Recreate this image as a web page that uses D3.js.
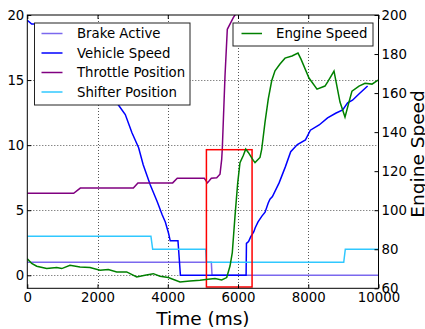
<!DOCTYPE html>
<html>
<head>
<meta charset="utf-8">
<script src="https://cdn.jsdelivr.net/npm/d3@7"></script>
<style>
  body { margin: 0; background: #fff; }
  svg { display: block; font-family: "DejaVu Sans", sans-serif; }
</style>
</head>
<body>
<svg width="425" height="329"></svg>
<script>
// series data: [time (ms), value]
const brakeActive = [[0, 1], [5240, 1], [5260, 0], [10000, 0]]
const shifterPosition = [[0, 3], [3520, 3], [3570, 2], [5080, 2], [5100, 1], [9010, 1], [9055, 2], [10000, 2]]
const throttlePosition = [
  [0, 6.3], [1320, 6.3], [1510, 6.7], [3020, 6.7], [3150, 7.1], [4140, 7.1], [4270, 7.45],
  [5040, 7.45], [5130, 7.1], [5240, 7.45], [5393, 7.5], [5487, 7.77], [5535, 8.9], [5552, 9.7],
  [5629, 15.3], [5695, 18.9], [5866, 19.8], [5962, 20.2], [6100, 20.3], [10000, 20.3]
]
const vehicleSpeed = [
  [0, 19.6], [125, 19.3], [400, 19.3], [1000, 19.0], [1500, 18.2], [2000, 16.3], [2300, 14.6],
  [2590, 13.1], [2790, 12.35], [2980, 10.95], [3170, 9.8], [3300, 8.5], [3500, 6.95], [3700, 5.65],
  [3840, 4.65], [3930, 4.1], [4020, 3.25], [4070, 2.65], [4290, 2.65], [4360, 0], [6230, 0],
  [6240, 2.45], [6300, 2.6], [6360, 2.95], [6450, 3.35], [6490, 3.65], [6570, 4.1], [6680, 4.55],
  [6770, 4.85], [6860, 5.55], [6910, 5.85], [6980, 6.05], [7170, 7.1], [7350, 8.35], [7500, 9.5],
  [7690, 10.05], [7920, 10.4], [8060, 11.15], [8310, 11.55], [8550, 12.1], [8780, 12.45],
  [8980, 12.7], [9120, 13.25], [9260, 13.45], [9450, 13.95], [9690, 14.55]
]
const engineSpeed = [
  [0, 75.2], [125, 72.7], [268, 71.3], [552, 70.1], [837, 70.6], [980, 70.1], [1216, 71.8],
  [1500, 70.9], [1785, 70.6], [2070, 69.2], [2306, 69.6], [2546, 68.4], [2830, 68.4], [3115, 65.8],
  [3351, 66.7], [3588, 67.5], [3778, 66.2], [4015, 65.5], [4348, 63.2], [4632, 63.7], [4917, 64.1],
  [5145, 64.6], [5345, 65], [5535, 64.3], [5678, 65.5], [5772, 71.4], [5837, 78.3], [5914, 97],
  [5991, 114], [6056, 124.4], [6150, 128], [6219, 131.3], [6293, 129.6], [6435, 125.5], [6484, 124.4],
  [6626, 127], [6675, 131.3], [6768, 145], [6862, 157], [6959, 166.3], [7053, 171.4], [7195, 174.9],
  [7338, 177.9], [7537, 179], [7708, 180.5], [7793, 177.4], [8021, 167.7], [8249, 162], [8476, 163.6],
  [8562, 166], [8733, 171.3], [8904, 155.4], [9046, 147.7], [9160, 155.4], [9245, 161], [9445, 163.6],
  [9616, 165], [9815, 164.6], [9986, 166.7]
]
const highlight = [[5100, -0.9], [6400, 9.65]]

const xTicks = [0, 2000, 4000, 6000, 8000, 10000]
const yTicks = [0, 5, 10, 15, 20]
const y2Ticks = [60, 80, 100, 120, 140, 160, 180, 200]

const leftSeries = [
  { name: 'Brake Active', data: brakeActive, color: '#7b68ee' },
  { name: 'Vehicle Speed', data: vehicleSpeed, color: '#0000ff' },
  { name: 'Throttle Position', data: throttlePosition, color: '#800080' },
  { name: 'Shifter Position', data: shifterPosition, color: '#30c8ff' }
]
const rightSeries = [{ name: 'Engine Speed', data: engineSpeed, color: '#008000' }]

const svg = d3.select('svg')
const m = { left: 27.3, right: 378.5, top: 15, bottom: 288.3 }

const x = d3.scaleLinear().domain([0, 10000]).range([m.left, m.right])
const y = d3.scaleLinear().domain([-1, 20]).range([m.bottom, m.top])
const y2 = d3.scaleLinear().domain([60, 200]).range([m.bottom, m.top])

svg.append('defs').append('clipPath').attr('id', 'plot')
  .append('rect').attr('x', m.left).attr('y', m.top).attr('width', m.right - m.left).attr('height', m.bottom - m.top)

// grid
const grid = svg.append('g').attr('stroke', '#555').attr('stroke-width', 1).attr('stroke-dasharray', '1,2')
grid.selectAll('.gx').data(xTicks.slice(1, -1)).enter().append('line')
  .attr('x1', d => Math.round(x(d)) + 0.5).attr('x2', d => Math.round(x(d)) + 0.5)
  .attr('y1', m.top).attr('y2', m.bottom)
grid.selectAll('.gy').data(yTicks.slice(0, -1)).enter().append('line')
  .attr('y1', d => Math.round(y(d)) + 0.5).attr('y2', d => Math.round(y(d)) + 0.5)
  .attr('x1', m.left).attr('x2', m.right)

const plot = svg.append('g').attr('clip-path', 'url(#plot)')
const line1 = d3.line().x(d => x(d[0])).y(d => y(d[1]))
const line2 = d3.line().x(d => x(d[0])).y(d => y2(d[1]))

plot.selectAll('.s1').data(leftSeries).enter().append('path')
  .attr('d', d => line1(d.data))
  .attr('fill', 'none').attr('stroke', d => d.color).attr('stroke-width', 1.5)

// red box
plot.append('rect')
  .attr('x', x(highlight[0][0])).attr('y', y(highlight[1][1]))
  .attr('width', x(highlight[1][0]) - x(highlight[0][0]))
  .attr('height', y(highlight[0][1]) - y(highlight[1][1]))
  .attr('fill', 'none').attr('stroke', '#ff0000').attr('stroke-width', 1.5)

// legend 1 (left axis)
const leg1 = svg.append('g')
leg1.append('rect').attr('x', 34.5).attr('y', 23).attr('width', 155.5).attr('height', 82)
  .attr('fill', '#fff').attr('stroke', '#222').attr('stroke-width', 1)
leftSeries.forEach((s, i) => {
  const yy = 33.5 + i * 19.5
  leg1.append('line').attr('x1', 41.5).attr('x2', 62.5).attr('y1', yy).attr('y2', yy)
    .attr('stroke', s.color).attr('stroke-width', 1.5)
  leg1.append('text').attr('x', 77).attr('y', yy).attr('dy', '0.35em')
    .attr('font-size', 13.3).attr('fill', '#000').text(s.name)
})

const plot2 = svg.append('g').attr('clip-path', 'url(#plot)')
plot2.selectAll('.s2').data(rightSeries).enter().append('path')
  .attr('d', d => line2(d.data))
  .attr('fill', 'none').attr('stroke', d => d.color).attr('stroke-width', 1.5)

// legend 2 (right axis)
const leg2 = svg.append('g')
leg2.append('rect').attr('x', 233).attr('y', 23).attr('width', 140).attr('height', 23)
  .attr('fill', '#fff').attr('stroke', '#222').attr('stroke-width', 1)
rightSeries.forEach((s, i) => {
  const yy = 33.5 + i * 19.5
  leg2.append('line').attr('x1', 241.5).attr('x2', 262).attr('y1', yy).attr('y2', yy)
    .attr('stroke', s.color).attr('stroke-width', 1.5)
  leg2.append('text').attr('x', 276).attr('y', yy).attr('dy', '0.35em')
    .attr('font-size', 13.3).attr('fill', '#000').text(s.name)
})

// axes
const styleAxis = g => {
  g.select('.domain').remove()
  g.selectAll('text').attr('font-size', 13.3).attr('fill', '#000').attr('font-family', '"DejaVu Sans", sans-serif')
  g.selectAll('line').attr('stroke', '#000')
}
svg.append('g').attr('transform', `translate(0,${m.bottom})`)
  .call(d3.axisBottom(x).tickValues(xTicks).tickFormat(d3.format('d')).tickSize(-4).tickPadding(4))
  .call(styleAxis)
svg.append('g').attr('transform', `translate(0,${m.top})`)
  .call(d3.axisTop(x).tickValues(xTicks).tickFormat('').tickSize(-4))
  .call(styleAxis)
svg.append('g').attr('transform', `translate(${m.left},0)`)
  .call(d3.axisLeft(y).tickValues(yTicks).tickSize(-4).tickPadding(3))
  .call(styleAxis)
svg.append('g').attr('transform', `translate(${m.right},0)`)
  .call(d3.axisRight(y2).tickValues(y2Ticks).tickSize(-4).tickPadding(3))
  .call(styleAxis)

svg.append('rect').attr('x', m.left).attr('y', m.top).attr('width', m.right - m.left).attr('height', m.bottom - m.top)
  .attr('fill', 'none').attr('stroke', '#000').attr('stroke-width', 1)

svg.append('text').attr('x', (m.left + m.right) / 2).attr('y', 325)
  .attr('text-anchor', 'middle').attr('font-size', 18.5).text('Time (ms)')
svg.append('text').attr('transform', 'translate(423.5,154) rotate(-90)')
  .attr('text-anchor', 'middle').attr('font-size', 18.5).text('Engine Speed')
</script>
</body>
</html>
